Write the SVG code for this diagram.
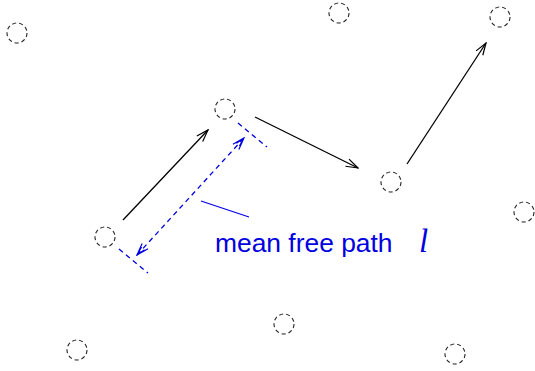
<svg xmlns="http://www.w3.org/2000/svg" width="535" height="371" viewBox="0 0 535 371">
<style>
.atom{fill:none;stroke:#222;stroke-width:1.1;stroke-dasharray:4,3}
.step{stroke:#000;stroke-width:1.3;fill:none}
.blue{stroke:#0000e0;stroke-width:1.3;fill:none}
.bdash{stroke:#0000e0;stroke-width:1.3;fill:none;stroke-dasharray:5,4}
</style>
<defs>
<marker id="ah" viewBox="0 0 14 10" refX="13" refY="5" markerWidth="14" markerHeight="10" markerUnits="userSpaceOnUse" orient="auto">
<path d="M1,1 L13,5 L1,9" fill="none" stroke="#000" stroke-width="1.2"/>
</marker>
<marker id="bh" viewBox="0 0 14 10" refX="13" refY="5" markerWidth="14" markerHeight="10" markerUnits="userSpaceOnUse" orient="auto-start-reverse">
<path d="M1,1 L13,5 L1,9 M4,3 L13,5 L4,7" fill="none" stroke="#0000e0" stroke-width="1.2"/>
</marker>
</defs>
<g id="atom1"><circle class="atom" cx="17" cy="33" r="10"/></g>
<g id="atom2"><circle class="atom" cx="339" cy="13" r="10"/></g>
<g id="atom3"><circle class="atom" cx="500" cy="17" r="10"/></g>
<g id="atom4"><circle class="atom" cx="225" cy="109" r="10"/></g>
<g id="atom5"><circle class="atom" cx="105" cy="237" r="10"/></g>
<g id="atom6"><circle class="atom" cx="391" cy="182" r="10"/></g>
<g id="atom7"><circle class="atom" cx="524" cy="212" r="10"/></g>
<g id="atom8"><circle class="atom" cx="284" cy="324" r="10"/></g>
<g id="atom9"><circle class="atom" cx="77" cy="350" r="10"/></g>
<g id="atom10"><circle class="atom" cx="455" cy="354" r="10"/></g>
<g id="connectors">
<line class="step" x1="123" y1="220" x2="208" y2="130" marker-end="url(#ah)"/>
<line class="step" x1="255" y1="117" x2="358" y2="168" marker-end="url(#ah)"/>
<line class="step" x1="407" y1="164" x2="486" y2="43" marker-end="url(#ah)"/>
<line class="bdash" x1="137" y1="255" x2="244" y2="138" marker-start="url(#bh)" marker-end="url(#bh)"/>
<line class="bdash" x1="238" y1="123" x2="267" y2="147"/>
<line class="bdash" x1="119" y1="249" x2="148" y2="273"/>
<line class="blue" x1="201" y1="201" x2="249" y2="217"/>
</g>
<g id="label">
<text x="215" y="252" font-family="Liberation Sans, Arial, sans-serif" font-size="26.4" fill="#0000e0">mean free path</text>
<text x="419" y="252" font-family="Liberation Serif, Times New Roman, serif" font-style="italic" font-size="33" fill="#0000e0">l</text>
</g>
</svg>
